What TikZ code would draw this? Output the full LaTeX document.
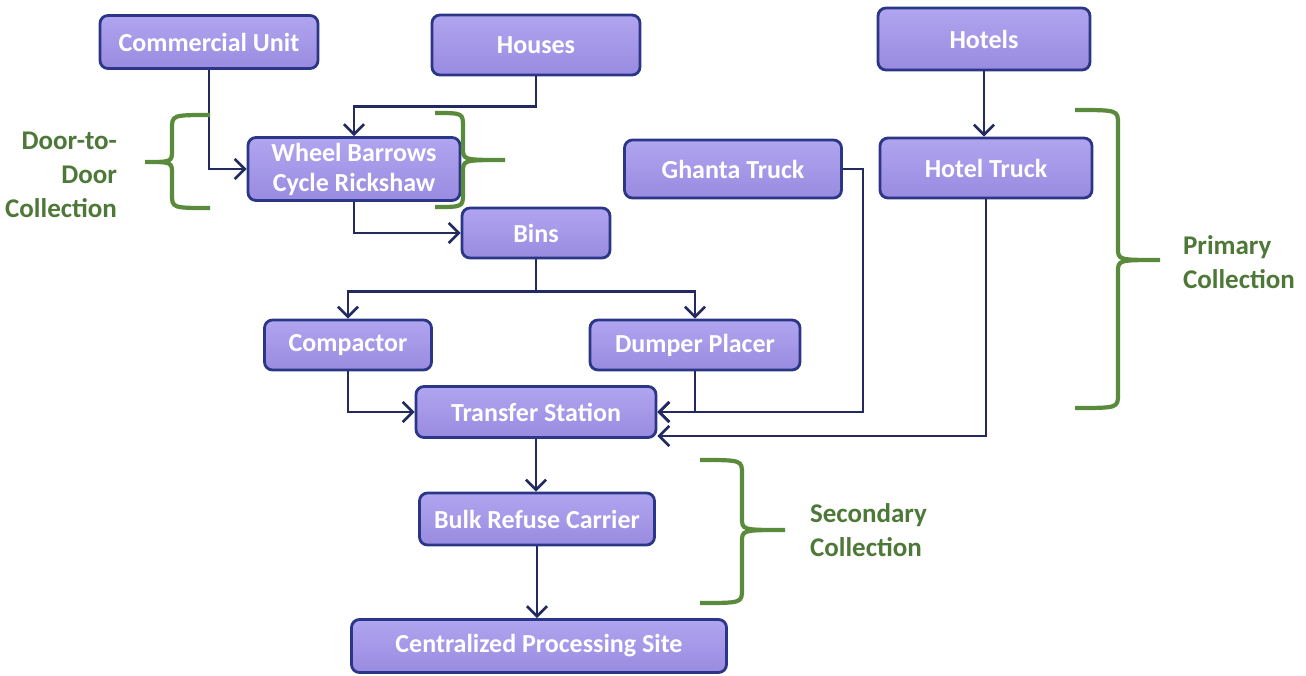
\documentclass[tikz,border=0pt]{standalone}
\usepackage{fontspec}
\setmainfont{Carlito}
\usetikzlibrary{arrows.meta}
\definecolor{boxtop}{HTML}{B0A5F0}
\definecolor{boxbot}{HTML}{998BE0}
\definecolor{boxline}{HTML}{2B3686}
\definecolor{flowline}{HTML}{222A60}
\definecolor{bracegreen}{HTML}{5A8A3C}
\definecolor{labelgreen}{HTML}{4E7838}
% curly brace: end x, spine x, tip x, top y, middle y, bottom y
\newcommand\gbrace[6]{%
  \draw[brace] (#1,#4) .. controls (#2,#4) .. (#2,#4+14) -- (#2,#5-12)
    .. controls (#2,#5) .. (#3,#5) .. controls (#2,#5) .. (#2,#5+12)
    -- (#2,#6-14) .. controls (#2,#6) .. (#1,#6);}
\begin{document}
\begin{tikzpicture}[x=0.5pt,y=-0.5pt,
  box/.style={draw=boxline, line width=1.4pt, rounded corners=4pt,
    top color=boxtop, bottom color=boxbot, text=white, align=center,
    inner sep=0pt, font=\bfseries\fontsize{13}{15}\selectfont},
  flow/.style={draw=flowline, line width=1.35pt,
    -{Straight Barb[length=5pt,width=10pt,line width=1.35pt]}},
  brace/.style={draw=bracegreen, line width=2.1pt},
  lbl/.style={text=labelgreen, font=\bfseries\fontsize{13.5}{17}\selectfont}]
\useasboundingbox (0,0) rectangle (1306,675);

% sources
\node[box, minimum width=109pt, minimum height=26.5pt] (com) at (209,42) {Commercial Unit};
\node[box, minimum width=104pt, minimum height=30pt] (hou) at (536,45) {Houses};
\node[box, minimum width=106pt, minimum height=31pt] (hot) at (984,39) {Hotels};

% primary collection
\node[box, minimum width=106pt, minimum height=31.5pt] (whe) at (354,169) {Wheel Barrows\\Cycle Rickshaw};
\node[box, minimum width=108.5pt, minimum height=29pt] (gha) at (733,169) {Ghanta Truck};
\node[box, minimum width=106pt, minimum height=30pt] (htr) at (986,168) {Hotel Truck};
\node[box, minimum width=74pt, minimum height=25pt] (bin) at (536,233) {Bins};
\node[box, minimum width=83.5pt, minimum height=25pt] (cmp) at (348,345) {Compactor};
\node[box, minimum width=105pt, minimum height=25pt] (dmp) at (695,345) {Dumper Placer};

% secondary collection
\node[box, minimum width=120pt, minimum height=25.5pt] (tra) at (536,412) {Transfer Station};
\node[box, minimum width=117.5pt, minimum height=26pt] (blk) at (537,519) {Bulk Refuse Carrier};
\node[box, minimum width=187.5pt, minimum height=26.5pt] (cen) at (539,646) {Centralized Processing Site};

% connectors
\draw[flow] (com.south) |- (whe.west);
\draw[flow] (hou.south) -- ++(0,30) -| (whe.north);
\draw[flow] (whe.south) |- (bin.west);
\draw[flow] (bin.south) -- ++(0,32) -| (cmp.north);
\draw[flow] (bin.south) -- ++(0,32) -| (dmp.north);
\draw[flow] (cmp.south) |- (tra.west);
\draw[flow] (dmp.south) |- (tra.east);
\draw[flow] (gha.east) -- ++(20,0) |- (tra.east);
\draw[flow] (hot.south) -- (hot.south |- htr.north);
\draw[flow] (htr.south) |- ([yshift=-12pt]tra.east);
\draw[flow] (tra.south) -- (tra.south |- blk.north);
\draw[flow] (blk.south) -- (blk.south |- cen.north);

% braces
\gbrace{210}{172}{145}{115}{162}{208}
\gbrace{435}{463}{505}{113}{160}{207}
\gbrace{1075}{1118}{1160}{110}{260}{408}
\gbrace{700}{742}{785}{460}{530}{603}

% brace labels
\node[lbl, align=right, anchor=east] (ddc) at (124,175) {Door-to-\\Door\\Collection};
\node[lbl, align=left, anchor=west] (pc) at (1176,262) {Primary\\Collection};
\node[lbl, align=left, anchor=west] (sc) at (803,530) {Secondary\\Collection};
\end{tikzpicture}
\end{document}
